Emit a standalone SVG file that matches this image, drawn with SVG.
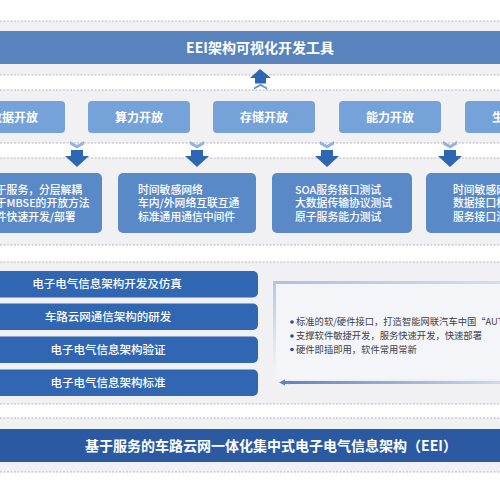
<svg xmlns="http://www.w3.org/2000/svg" width="500" height="500" viewBox="0 0 500 500">
<defs>
<style>
.band{fill:#f1f1f3}
.dash{stroke:#a8a8ae;stroke-width:0.8;stroke-dasharray:2 1.5;fill:none}
.tbox{fill:#76a2da}
.lbox{fill:#5a89c8}
.bar{fill:#3166b2}
.t{font-family:"Noto Sans CJK SC","Noto Sans",sans-serif;fill:#fff}
.tb{font-size:12px;font-weight:700;text-anchor:middle}
.tl{font-size:10.8px;font-weight:500}
.tbar{font-size:11.5px;font-weight:500;text-anchor:middle}
.bul{font-family:"Noto Sans CJK SC","Noto Sans",sans-serif;font-size:9.3px;fill:#3c3f4c}
.dark{fill:#2e67b1}
.light{fill:#93b3de}
</style>
<g id="downArrow">
<polygon class="light" points="-7,141 0,145 7,141 7,144.5 0,148.5 -7,144.5"/>
<rect class="dark" x="-6" y="150" width="12" height="6.5"/>
<polygon class="dark" points="-12,156 12,156 0,167"/>
</g>
<linearGradient id="topLine" x1="0" x2="1" y1="0" y2="0">
<stop offset="0" stop-color="#aebfe2"/><stop offset="1" stop-color="#d3ddef"/>
</linearGradient>
<linearGradient id="leftLine" x1="0" x2="0" y1="0" y2="1">
<stop offset="0" stop-color="#b6c6e6"/><stop offset="1" stop-color="#eef1f7"/>
</linearGradient>
<linearGradient id="botLine" x1="0" x2="1" y1="0" y2="0">
<stop offset="0" stop-color="#5c84c3"/><stop offset="1" stop-color="#cdd9ee"/>
</linearGradient>
</defs>
<rect width="500" height="500" fill="#ffffff"/>
<g id="bands">
<rect class="band" x="0" y="21" width="500" height="54"/>
<rect class="band" x="0" y="90" width="500" height="53"/>
<rect class="band" x="0" y="158" width="500" height="87"/>
<rect class="band" x="0" y="262" width="500" height="142"/>
<rect class="band" x="0" y="418" width="500" height="54"/>
<path class="dash" d="M0 21H500M0 75H500M0 90H500M0 143H500M0 158H500M0 245H500M0 262H500M0 404H500M0 418H500M0 472H500"/>
</g>
<g id="title">
<rect x="0" y="31" width="500" height="33" fill="#5883bd"/>
<text class="t" x="260" y="53" font-size="14" font-weight="700" text-anchor="middle">EEI架构可视化开发工具</text>
</g>
<g id="connectors">
<polygon class="dark" points="260,69 271,78 266,78 266,83.5 255,83.5 255,78 250,78"/>
<polygon fill="#6d95cc" points="254,87.5 260.5,83.8 267,87.5 267,89.5 260.5,86 254,89.5"/>
<use href="#downArrow" x="77"/>
<use href="#downArrow" x="197"/>
<use href="#downArrow" x="327"/>
<use href="#downArrow" x="450"/>
</g>
<g id="open-data"><rect class="tbox" x="-37" y="101" width="102" height="32" rx="4"/><text class="t tb" x="14" y="122">数据开放</text></g>
<g id="open-compute"><rect class="tbox" x="88" y="101" width="102" height="32" rx="4"/><text class="t tb" x="139" y="122">算力开放</text></g>
<g id="open-storage"><rect class="tbox" x="213" y="101" width="102" height="32" rx="4"/><text class="t tb" x="264" y="122">存储开放</text></g>
<g id="open-ability"><rect class="tbox" x="339" y="101" width="102" height="32" rx="4"/><text class="t tb" x="390" y="122">能力开放</text></g>
<g id="open-eco"><rect class="tbox" x="465" y="101" width="102" height="32" rx="4"/><text class="t tb" x="516" y="122">生态开放</text></g>
<g id="detail-1"><rect class="lbox" x="-37" y="173" width="139" height="60" rx="5"/>
<text class="t tl"><tspan x="-15" y="193.5">基于服务，分层解耦</tspan><tspan x="-15" y="207">基于MBSE的开放方法</tspan><tspan x="-15" y="220.5">软件快速开发/部署</tspan></text></g>
<g id="detail-2"><rect class="lbox" x="118" y="173" width="138" height="60" rx="5"/>
<text class="t tl"><tspan x="138" y="193.5">时间敏感网络</tspan><tspan x="138" y="207">车内/外网络互联互通</tspan><tspan x="138" y="220.5">标准通用通信中间件</tspan></text></g>
<g id="detail-3"><rect class="lbox" x="272" y="173" width="140" height="60" rx="5"/>
<text class="t tl"><tspan x="295" y="193.5">SOA服务接口测试</tspan><tspan x="295" y="207">大数据传输协议测试</tspan><tspan x="295" y="220.5">原子服务能力测试</tspan></text></g>
<g id="detail-4"><rect class="lbox" x="426" y="173" width="140" height="60" rx="5"/>
<text class="t tl"><tspan x="453" y="193.5">时间敏感网络测试</tspan><tspan x="453" y="207">数据接口标准测试</tspan><tspan x="453" y="220.5">服务接口测试</tspan></text></g>
<g id="bar-1"><rect class="bar" x="-10" y="271" width="268" height="26.5" rx="5"/><text class="t tbar" x="107" y="288">电子电气信息架构开发及仿真</text></g>
<g id="bar-2"><rect class="bar" x="-10" y="303.5" width="268" height="26.5" rx="5"/><text class="t tbar" x="108" y="320.5">车路云网通信架构的研发</text></g>
<g id="bar-3"><rect class="bar" x="-10" y="336.5" width="268" height="26.5" rx="5"/><text class="t tbar" x="108" y="353.5">电子电气信息架构验证</text></g>
<g id="bar-4"><rect class="bar" x="-10" y="369.5" width="268" height="26.5" rx="5"/><text class="t tbar" x="108" y="386.5">电子电气信息架构标准</text></g>
<g id="panel">
<rect x="276" y="284" width="224" height="95" fill="#f4f5f8"/>
<rect x="273" y="281" width="227" height="3" fill="url(#topLine)"/>
<rect x="273" y="281" width="3" height="86" fill="url(#leftLine)"/>
<rect x="285" y="381" width="215" height="3" fill="url(#botLine)"/>
<polygon fill="#5c84c3" points="279,382.5 285,379.5 285,385.5"/>
<path d="M289 380.5l-2 2 2 2" stroke="#7d9dd0" stroke-width="0.8" fill="none"/>
<circle cx="292" cy="322" r="1.8" fill="#2b4f8a"/>
<circle cx="292" cy="336" r="1.8" fill="#2b4f8a"/>
<circle cx="292" cy="349.5" r="1.8" fill="#2b4f8a"/>
<text class="bul" x="296" y="325.3">标准的软/硬件接口，打造智能网联汽车中国“AUTOSAR”</text>
<text class="bul" x="296" y="339.3">支撑软件敏捷开发，服务快速开发，快速部署</text>
<text class="bul" x="296" y="352.8">硬件即插即用，软件常用常新</text>
</g>
<g id="base">
<rect x="0" y="429" width="500" height="33" fill="#2b5aa2"/>
<text class="t" x="271" y="451" font-size="14" font-weight="700" text-anchor="middle">基于服务的车路云网一体化集中式电子电气信息架构（EEI）</text>
</g>
</svg>
